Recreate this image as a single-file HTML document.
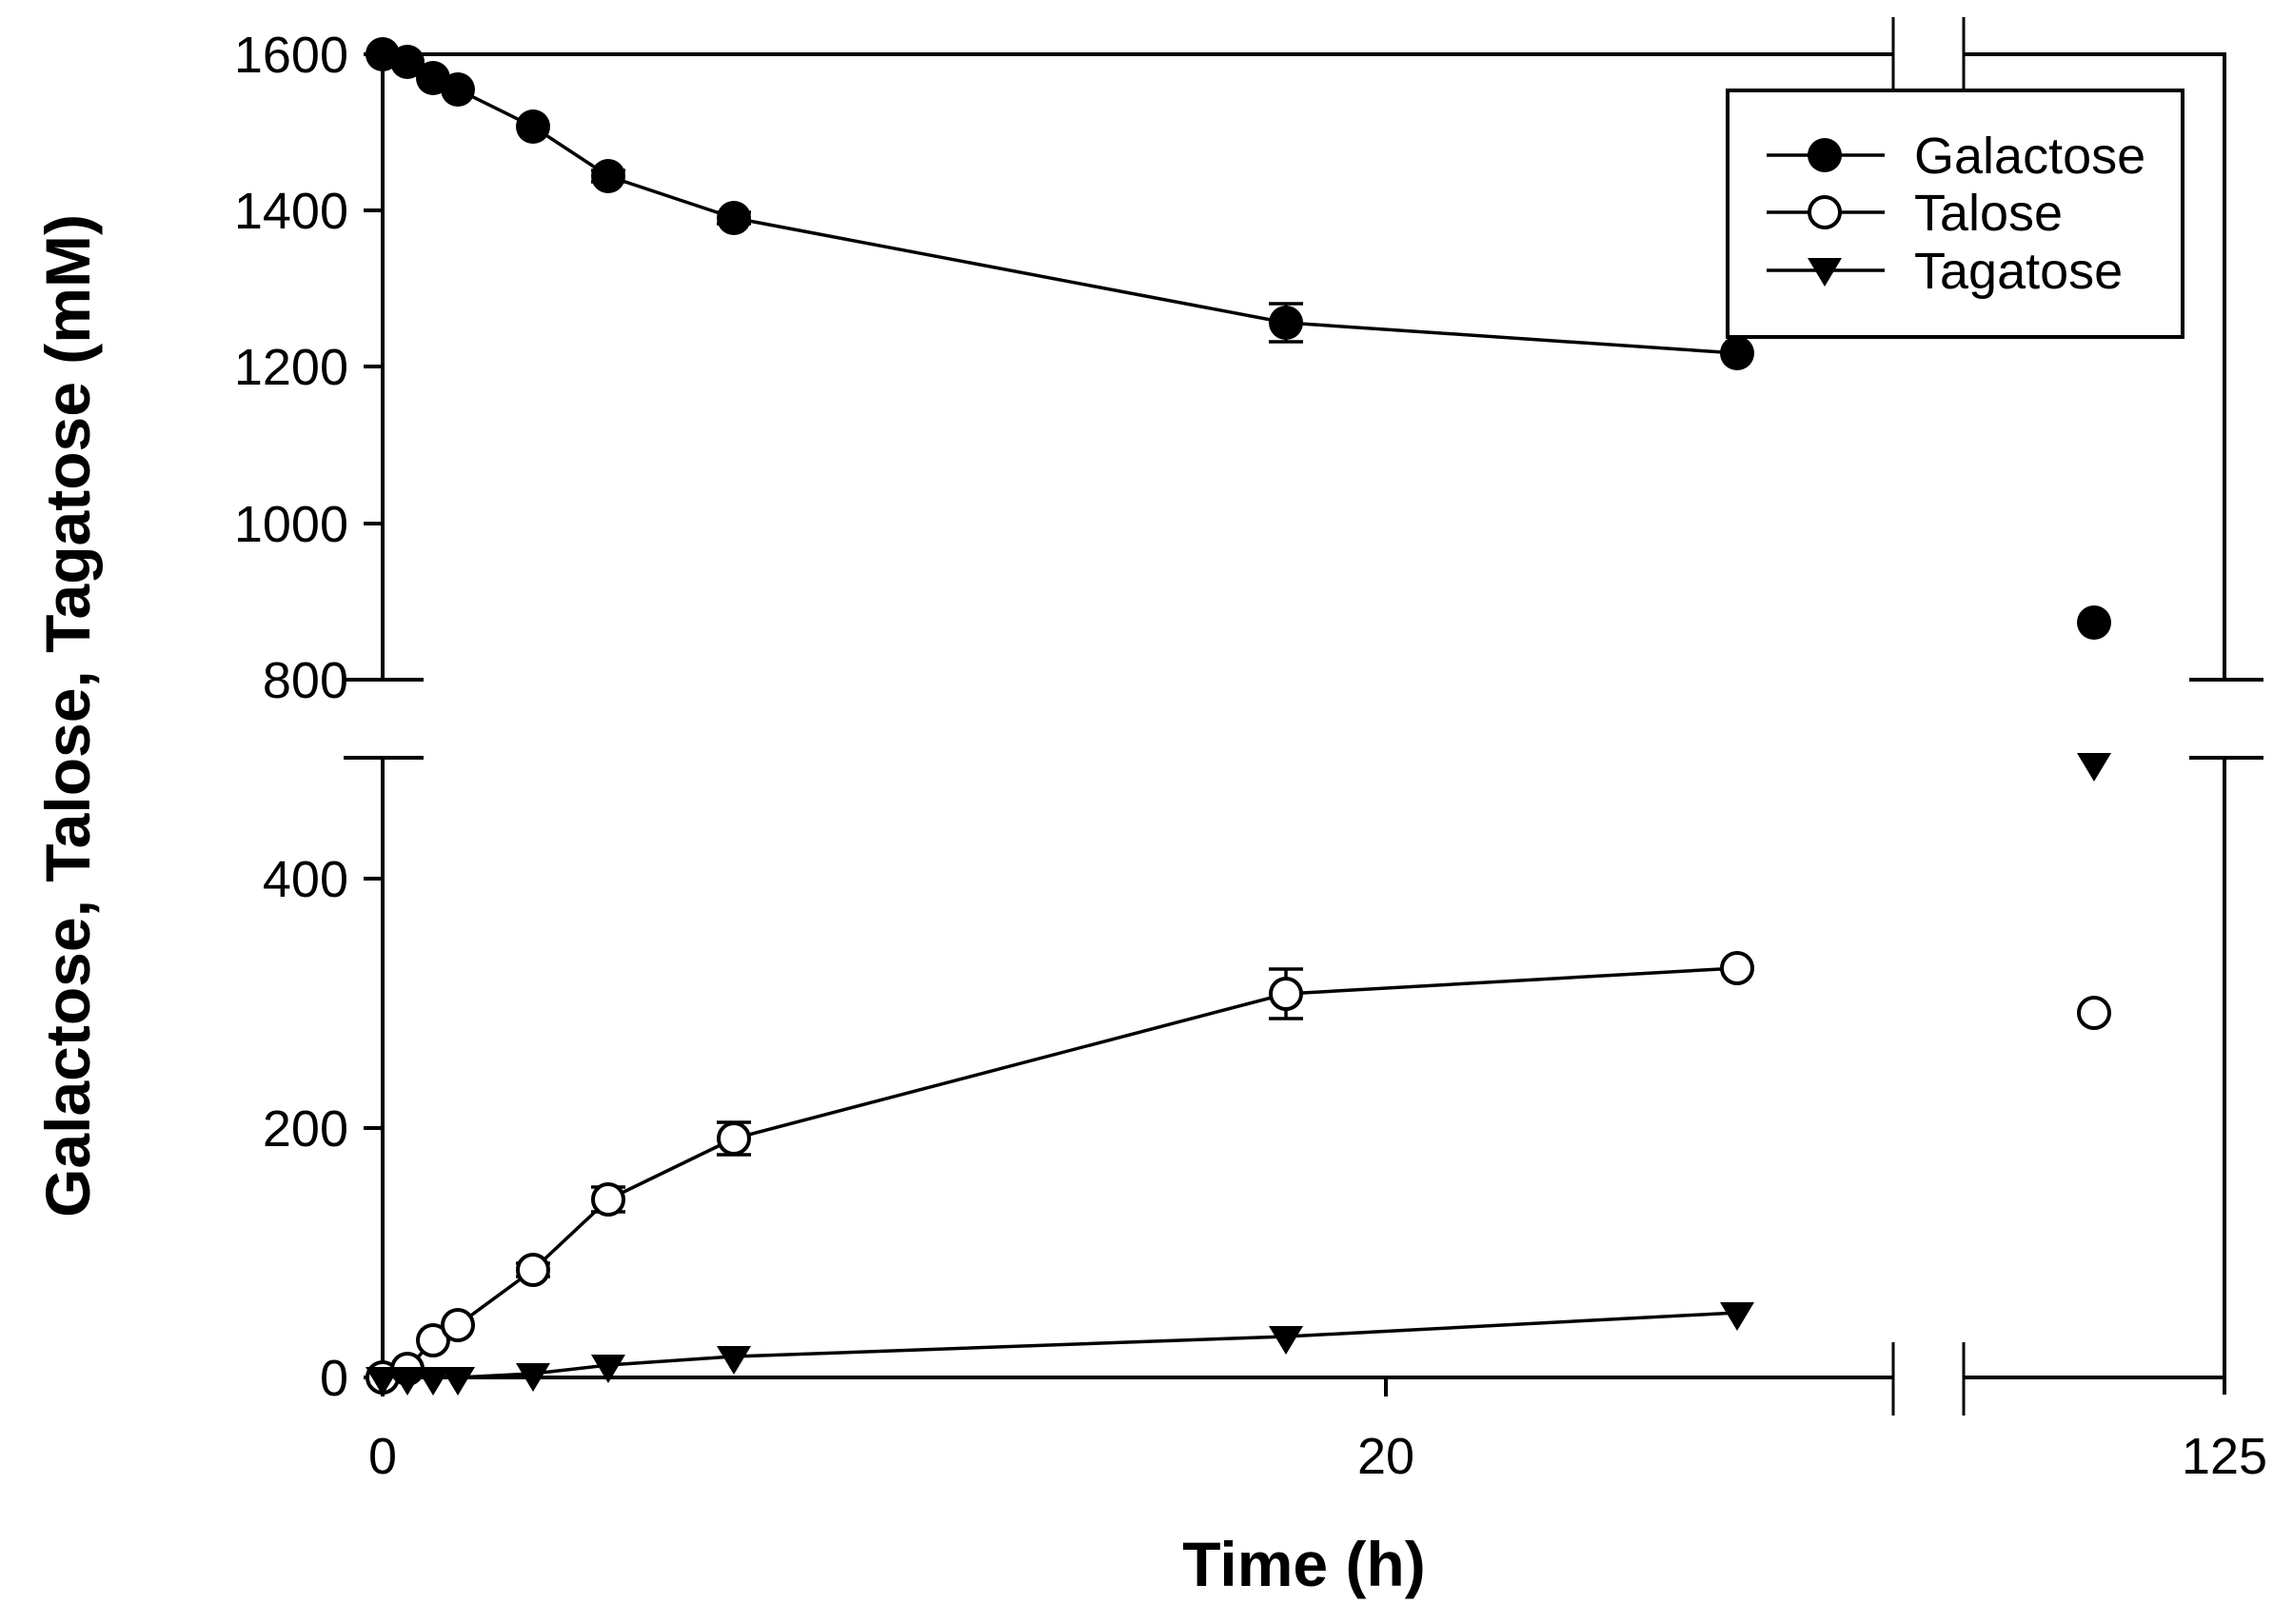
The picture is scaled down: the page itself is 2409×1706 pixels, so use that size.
<!DOCTYPE html>
<html><head><meta charset="utf-8"><style>html,body{margin:0;padding:0;background:#fff}svg{display:block}</style></head>
<body>
<svg width="2409" height="1706" viewBox="0 0 2409 1706" xmlns="http://www.w3.org/2000/svg" font-family="Liberation Sans, Arial, sans-serif">
<rect width="2409" height="1706" fill="#fff"/>
<g stroke="#000" stroke-width="4" fill="none">
<line x1="402" y1="57" x2="402" y2="714"/>
<line x1="402" y1="796" x2="402" y2="1449"/>
<line x1="2337" y1="57" x2="2337" y2="714"/>
<line x1="2337" y1="796" x2="2337" y2="1465"/>
<line x1="400" y1="57" x2="1989" y2="57"/>
<line x1="2063" y1="57" x2="2339" y2="57"/>
<line x1="400" y1="1447" x2="1989" y2="1447"/>
<line x1="2063" y1="1447" x2="2339" y2="1447"/>
<line x1="361" y1="714" x2="445" y2="714"/>
<line x1="361" y1="796" x2="445" y2="796"/>
<line x1="2300" y1="714" x2="2378" y2="714"/>
<line x1="2300" y1="796" x2="2378" y2="796"/>
<line x1="1989" y1="18" x2="1989" y2="93" stroke-width="3"/>
<line x1="2063" y1="18" x2="2063" y2="93" stroke-width="3"/>
<line x1="1989" y1="1410" x2="1989" y2="1487" stroke-width="3"/>
<line x1="2063" y1="1410" x2="2063" y2="1487" stroke-width="3"/>
<line x1="382" y1="57" x2="402" y2="57"/>
<line x1="382" y1="221" x2="402" y2="221"/>
<line x1="382" y1="385" x2="402" y2="385"/>
<line x1="382" y1="550" x2="402" y2="550"/>
<line x1="382" y1="1447" x2="402" y2="1447"/>
<line x1="382" y1="1185" x2="402" y2="1185"/>
<line x1="382" y1="923" x2="402" y2="923"/>
<line x1="402" y1="1447" x2="402" y2="1467"/>
<line x1="1456" y1="1447" x2="1456" y2="1467"/>
</g>
<g font-size="54" text-anchor="end" fill="#000">
<text x="366" y="76">1600</text>
<text x="366" y="240">1400</text>
<text x="366" y="404">1200</text>
<text x="366" y="569">1000</text>
<text x="366" y="733">800</text>
<text x="366" y="942">400</text>
<text x="366" y="1204">200</text>
<text x="366" y="1466">0</text>
</g>
<g font-size="54" text-anchor="middle" fill="#000">
<text x="402" y="1548">0</text>
<text x="1456" y="1548">20</text>
<text x="2337" y="1548">125</text>
</g>
<text x="1370" y="1666" font-size="66" font-weight="bold" text-anchor="middle">Time (h)</text>
<text transform="translate(94,752) rotate(-90)" font-size="66" font-weight="bold" text-anchor="middle">Galactose, Talose, Tagatose (mM)</text>

<g stroke="#000" stroke-width="3.5" fill="none">
<polyline points="402,57 428,65 455,82 481,94 560,133 639,185 771,229 1351,339 1825,371"/>
<polyline points="402,1447 428,1438 455,1408 481,1392 560,1334 639,1260 771,1196 1351,1044 1825,1017"/>
<polyline points="402,1447 428,1447 455,1447 481,1447 560,1443 639,1434 771,1425 1351,1404 1825,1379"/>
<path d="M1351,319V359M1333,319H1369M1333,359H1369"/>
<path d="M639,179V191M621,179H657M621,191H657"/>
<path d="M771,223V235M753,223H789M753,235H789"/>
<path d="M1351,1018V1070M1333,1018H1369M1333,1070H1369"/>
<path d="M771,1179V1213M753,1179H789M753,1213H789"/>
<path d="M639,1247V1273M621,1247H657M621,1273H657"/>
<path d="M560,1327V1341M542,1327H578M542,1341H578"/>
</g>
<g fill="#000">
<circle cx="402" cy="57" r="18"/><circle cx="428" cy="65" r="18"/><circle cx="455" cy="82" r="18"/><circle cx="481" cy="94" r="18"/><circle cx="560" cy="133" r="18"/><circle cx="639" cy="185" r="18"/><circle cx="771" cy="229" r="18"/><circle cx="1351" cy="339" r="18"/><circle cx="1825" cy="371" r="18"/><circle cx="2200" cy="654" r="18"/>
</g>
<g fill="#fff" stroke="#000" stroke-width="4">
<circle cx="402" cy="1447" r="16"/><circle cx="428" cy="1438" r="16"/><circle cx="455" cy="1408" r="16"/><circle cx="481" cy="1392" r="16"/><circle cx="560" cy="1334" r="16"/><circle cx="639" cy="1260" r="16"/><circle cx="771" cy="1196" r="16"/><circle cx="1351" cy="1044" r="16"/><circle cx="1825" cy="1017" r="16"/><circle cx="2200" cy="1064" r="16"/>
</g>
<g fill="#000">
<path d="M384,1436h36l-18,30z"/><path d="M410,1436h36l-18,30z"/><path d="M437,1436h36l-18,30z"/><path d="M463,1436h36l-18,30z"/><path d="M542,1432h36l-18,30z"/><path d="M621,1423h36l-18,30z"/><path d="M753,1414h36l-18,30z"/><path d="M1333,1393h36l-18,30z"/><path d="M1807,1368h36l-18,30z"/><path d="M2182,791h36l-18,30z"/>
</g>
<rect x="1815" y="95" width="478" height="259" fill="#fff" stroke="#000" stroke-width="4"/>
<g stroke="#000" stroke-width="3.5">
<line x1="1856" y1="163" x2="1980" y2="163"/>
<line x1="1856" y1="223" x2="1980" y2="223"/>
<line x1="1856" y1="284" x2="1980" y2="284"/>
</g>
<circle cx="1917" cy="163" r="18" fill="#000"/>
<circle cx="1917" cy="223" r="16" fill="#fff" stroke="#000" stroke-width="4"/>
<path d="M1899,271h36l-18,30z" fill="#000"/>
<g font-size="54" fill="#000">
<text x="2011" y="182">Galactose</text>
<text x="2011" y="242">Talose</text>
<text x="2011" y="303">Tagatose</text>
</g>
</svg>
</body></html>
